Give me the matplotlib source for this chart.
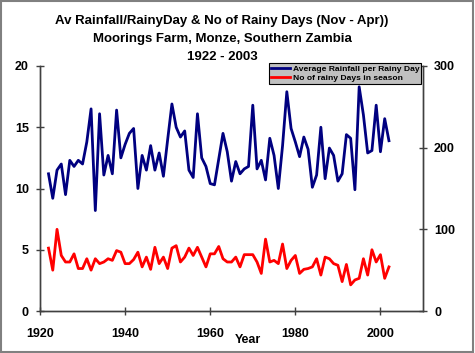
import matplotlib
matplotlib.use("Agg")
import matplotlib.pyplot as plt
from matplotlib.patches import Rectangle

plt.rcParams['font.family'] = ['Liberation Sans', 'DejaVu Sans']

years = list(range(1922, 2003))
avg_rain_per_day = [11.2, 9.2, 11.5, 12.0, 9.5, 12.3, 11.8, 12.3, 12.0, 13.8,
                    16.5, 8.2, 16.1, 11.1, 12.7, 11.2, 16.4, 12.5, 13.6, 14.5,
                    14.9, 10.0, 12.7, 11.5, 13.5, 11.5, 12.9, 11.0, 14.0, 16.9,
                    15.0, 14.2, 14.7, 11.5, 10.9, 16.1, 12.5, 11.8, 10.4, 10.3,
                    12.4, 14.5, 13.0, 10.6, 12.2, 11.2, 11.6, 11.8, 16.8, 11.6,
                    12.3, 10.7, 14.1, 12.7, 10.0, 13.5, 17.9, 14.9, 13.8, 12.6,
                    14.2, 13.2, 10.1, 11.1, 15.0, 10.8, 13.3, 12.7, 10.6, 11.2,
                    14.4, 14.1, 9.9, 18.3, 16.0, 12.9, 13.1, 16.8, 13.0, 15.7,
                    13.9]
rainy_days = [77, 50, 100, 68, 60, 60, 70, 52, 52, 64,
              50, 64, 58, 60, 64, 62, 74, 72, 58, 58,
              63, 72, 54, 66, 51, 78, 58, 66, 52, 77,
              80, 60, 66, 77, 68, 78, 66, 54, 70, 70,
              79, 64, 60, 60, 66, 54, 69, 69, 69, 60,
              46, 88, 60, 62, 58, 82, 52, 62, 68, 46,
              51, 52, 54, 64, 44, 66, 64, 58, 56, 36,
              57, 32, 38, 40, 64, 44, 75, 60, 69, 40,
              54]

x_ticks = [1920, 1940, 1960, 1980, 2000]
left_ticks = [0, 5, 10, 15, 20]
right_ticks = [0, 100, 200, 300]
title_lines = ["Av Rainfall/RainyDay & No of Rainy Days (Nov - Apr))",
               "Moorings Farm, Monze, Southern Zambia",
               "1922 - 2003"]
label_blue = "Average Rainfall per Rainy Day"
label_red = "No of rainy Days in season"

W, H = 475, 353
fig = plt.figure(figsize=(W / 100, H / 100), dpi=100)
fig.patches.append(Rectangle((0.002, 0.002), 0.994, 0.994, transform=fig.transFigure,
                             fill=False, edgecolor='#808080', linewidth=1.5))

ax = fig.add_axes([40 / W, 1 - 311 / H, (423 - 40) / W, (311 - 66) / H])
ax2 = ax.twinx()

l1, = ax.plot(years, avg_rain_per_day, color='#000080', linewidth=2.0, label=label_blue)
l2, = ax2.plot(years, rainy_days, color='#ff0000', linewidth=2.0, label=label_red)

ax.set_xlim(1920, 2010)
ax.set_ylim(0, 20)
ax2.set_ylim(0, 300)
ax.set_xticks(x_ticks)
ax.set_yticks(left_ticks)
ax2.set_yticks(right_ticks)

for a in (ax, ax2):
    a.spines['top'].set_visible(False)
    for s in ('left', 'right', 'bottom'):
        a.spines[s].set_color('#404040')
        a.spines[s].set_linewidth(1.0)
    a.tick_params(axis='both', direction='inout', length=6, width=1, color='#404040',
                  labelsize=9)
    for lab in a.get_xticklabels() + a.get_yticklabels():
        lab.set_fontweight('bold')
ax.tick_params(axis='x', pad=9)
ax.tick_params(axis='y', pad=5)
ax2.tick_params(axis='y', pad=5)

fig.text(222 / W, 1 - 21 / H, title_lines[0], ha='center', va='center',
         fontsize=9.5, fontweight='bold')
fig.text(222 / W, 1 - 39 / H, title_lines[1], ha='center', va='center',
         fontsize=9.5, fontweight='bold')
fig.text(222 / W, 1 - 57 / H, title_lines[2], ha='center', va='center',
         fontsize=9.5, fontweight='bold')
fig.text(248 / W, 1 - 340 / H, "Year", ha='center', va='center',
         fontsize=9, fontweight='bold')

leg = fig.legend(handles=[l1, l2], loc='upper left',
                 bbox_to_anchor=(269 / W, 1 - 63 / H), fontsize=6.1,
                 frameon=True, fancybox=False, borderpad=0.2, labelspacing=0.15,
                 handlelength=2.3, handletextpad=0.3, borderaxespad=0)
leg.get_frame().set_facecolor('#c0c0c0')
leg.get_frame().set_edgecolor('#000000')
leg.get_frame().set_alpha(1)
leg.get_frame().set_linewidth(0.8)
for t in leg.get_texts():
    t.set_fontweight('bold')

fig.savefig('out.png', dpi=100, facecolor='white')
